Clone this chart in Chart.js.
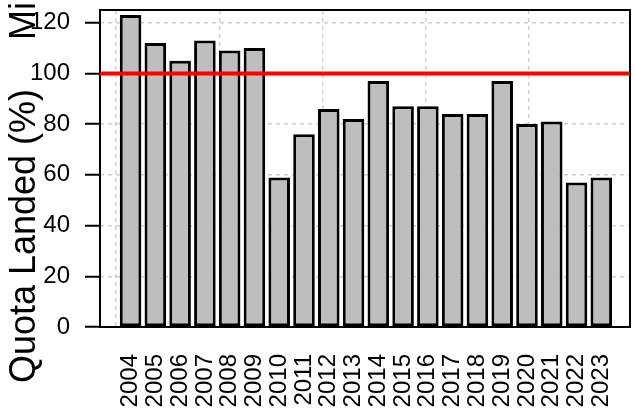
<!DOCTYPE html>
<html>
<head>
<meta charset="utf-8">
<script src="https://cdn.jsdelivr.net/npm/chart.js@4"></script>
<style>
  body { margin: 0; background: #fff; }
  #wrap { width: 635px; height: 418px; }
</style>
</head>
<body>
<div id="wrap"><canvas id="chart" width="635" height="418"></canvas></div>
<script>
// Quota landed per year (%)
const years = ['2004', '2005', '2006', '2007', '2008', '2009', '2010', '2011', '2012', '2013',
               '2014', '2015', '2016', '2017', '2018', '2019', '2020', '2021', '2022', '2023'];
const quotaLanded = [123, 112, 105, 113, 109, 110, 59, 76, 86, 82,
                     97, 87, 87, 84, 84, 97, 80, 81, 57, 59];
const yTicks = [0, 20, 40, 60, 80, 100, 120];
const gridX = [0, 5, 10, 15, 20];
const refLine = 100;

const font = '"Liberation Sans", Arial, sans-serif';
const gridGrey = '#cfcfcf';

// barplot style positions: width 1, space 0.2
const barX = years.map(function(_, i) { return 0.7 + 1.2 * i; });

function noPadding(scale) {
  scale.paddingTop = 0;
  scale.paddingBottom = 0;
  scale.paddingLeft = 0;
  scale.paddingRight = 0;
}

// frame round the plot region
const boxPlugin = {
  id: 'box',
  beforeDatasetsDraw: function(chart) {
    const a = chart.chartArea, ctx = chart.ctx;
    ctx.save();
    ctx.strokeStyle = '#000';
    ctx.lineWidth = 2;
    ctx.strokeRect(a.left, a.top, a.right - a.left, a.bottom - a.top);
    ctx.restore();
  }
};

// red reference line at 100 %
const refPlugin = {
  id: 'ref',
  afterDraw: function(chart) {
    const a = chart.chartArea, ctx = chart.ctx;
    const y = chart.scales.y.getPixelForValue(refLine);
    ctx.save();
    ctx.strokeStyle = '#ff0000';
    ctx.lineWidth = 4;
    ctx.beginPath();
    ctx.moveTo(a.left, y);
    ctx.lineTo(a.right, y);
    ctx.stroke();
    ctx.restore();
  }
};

// big rotated axis title (and the clipped second label above it)
const titlePlugin = {
  id: 'ytitle',
  afterDraw: function(chart) {
    const ctx = chart.ctx;
    ctx.save();
    ctx.fillStyle = '#000';
    ctx.font = '36px ' + font;
    ctx.textBaseline = 'alphabetic';
    ctx.translate(35, 236);
    ctx.rotate(-Math.PI / 2);
    ctx.textAlign = 'center';
    ctx.fillText('Quota Landed (%)', 0, 0);
    ctx.textAlign = 'left';
    ctx.fillText('Mil', 196, 0);
    ctx.restore();
  }
};

new Chart(document.getElementById('chart'), {
  type: 'bar',
  data: {
    datasets: [{
      label: 'Quota Landed (%)',
      data: barX.map(function(x, i) { return { x: x, y: quotaLanded[i] }; }),
      backgroundColor: '#bebebe',
      borderColor: '#000',
      borderWidth: 3,
      borderSkipped: false,
      barPercentage: 0.87,
      categoryPercentage: 1
    }]
  },
  options: {
    responsive: false,
    animation: false,
    layout: { padding: { top: 10, right: 5, left: 0, bottom: 0 } },
    plugins: {
      legend: { display: false },
      tooltip: { enabled: false }
    },
    scales: {
      x: {
        type: 'linear',
        position: 'bottom',
        offset: false,
        min: -0.78,
        max: 24.89,
        grid: { display: false, drawTicks: false, offset: false },
        border: { display: false },
        afterBuildTicks: function(scale) {
          scale.ticks = barX.map(function(v) { return { value: v }; });
        },
        afterFit: function(scale) { scale.height = 91; noPadding(scale); },
        ticks: {
          autoSkip: false,
          minRotation: 90,
          maxRotation: 90,
          padding: 27,
          color: '#000',
          font: { family: font, size: 24 },
          callback: function(value, index) { return years[index]; }
        }
      },
      xgrid: {
        type: 'linear',
        position: 'top',
        offset: false,
        min: -0.78,
        max: 24.89,
        z: 1,
        afterBuildTicks: function(scale) {
          scale.ticks = gridX.map(function(v) { return { value: v }; });
        },
        afterFit: function(scale) { scale.height = 0; noPadding(scale); },
        grid: { color: gridGrey, lineWidth: 1.5, drawTicks: false, offset: false },
        border: { display: false, dash: [4, 4] },
        ticks: { display: false }
      },
      y: {
        min: 0,
        max: 125,
        z: 1,
        afterBuildTicks: function(scale) {
          scale.ticks = yTicks.map(function(v) { return { value: v }; });
        },
        afterFit: function(scale) { scale.width = 100; noPadding(scale); },
        grid: {
          color: gridGrey,
          lineWidth: 1.5,
          tickColor: '#000',
          tickWidth: 2,
          tickLength: 15
        },
        border: { display: false, dash: [4, 4] },
        ticks: {
          padding: 15,
          color: '#000',
          font: { family: font, size: 24 }
        }
      }
    }
  },
  plugins: [boxPlugin, refPlugin, titlePlugin]
});
</script>
</body>
</html>
